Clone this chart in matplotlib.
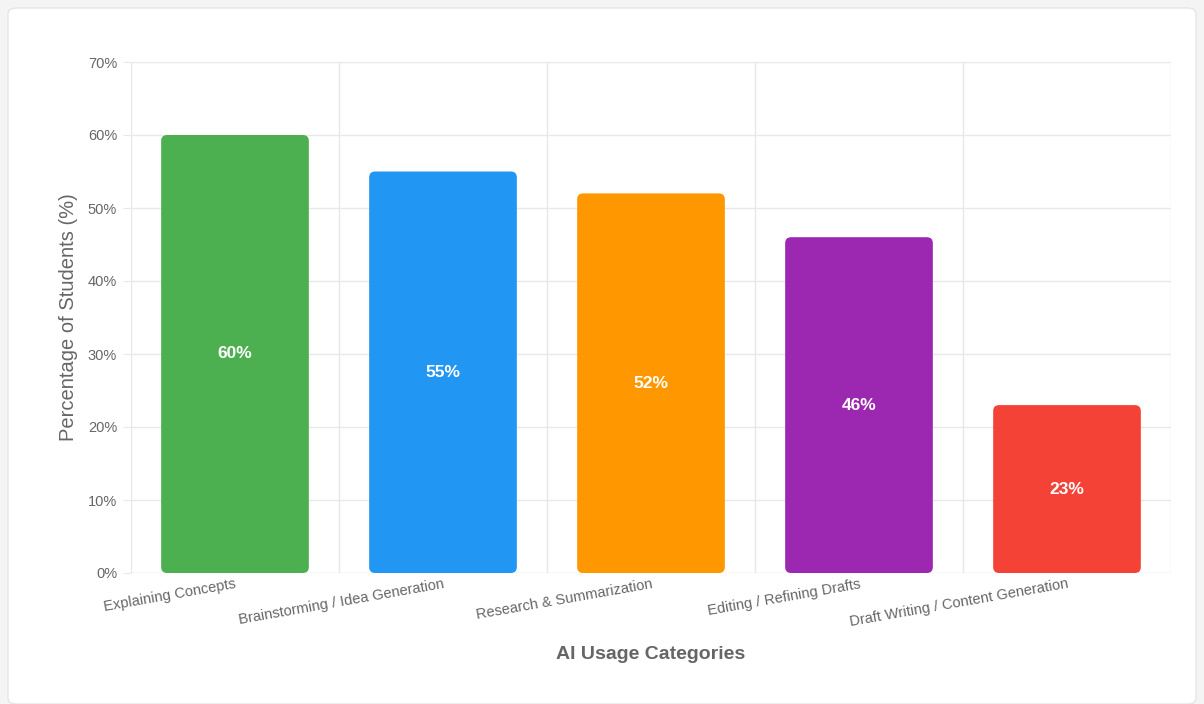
import matplotlib.pyplot as plt
from matplotlib.patches import FancyBboxPatch
import numpy as np

# данные
categories = ["Explaining Concepts", "Brainstorming / Idea Generation",
              "Research & Summarization", "Editing / Refining Drafts",
              "Draft Writing / Content Generation"]
values = [60, 55, 52, 46, 23]
colors = ["#4CAF50", "#2196F3", "#FF9800", "#9C27B0", "#F44336"]
y_ticks = [0, 10, 20, 30, 40, 50, 60, 70]

plt.rcParams['font.family'] = ['Liberation Sans', 'DejaVu Sans']

fig = plt.figure(figsize=(12.04, 7.04), dpi=100)
fig.patch.set_facecolor("#f4f4f4")

# белая карточка
card = FancyBboxPatch((8 / 1204, 0), 1188 / 1204, 696 / 704,
                      boxstyle="round,pad=0,rounding_size=0.008",
                      transform=fig.transFigure, facecolor="white",
                      edgecolor="#e6e6e6", linewidth=1, zorder=-10)
fig.patches.append(card)

ax = fig.add_axes([131 / 1204, 1 - 573 / 704, 1040 / 1204, 511 / 704])
ax.set_facecolor("none")

x = np.arange(len(categories))
bars = ax.bar(x, values, width=0.71, color=colors)
ax.set_xlim(-0.5, len(categories) - 0.5)
ax.set_ylim(0, 70)

# скруглённые углы
r_x = 6 / 208
aspect = (6 / 7.3) / r_x
for b, c in zip(bars, colors):
    b.set_visible(False)
    p = FancyBboxPatch((b.get_x(), b.get_y()), b.get_width(), b.get_height(),
                       boxstyle="round,pad=0,rounding_size=%f" % r_x,
                       mutation_aspect=aspect, facecolor=c, edgecolor="none",
                       zorder=3)
    ax.add_patch(p)
    ax.text(b.get_x() + b.get_width() / 2, b.get_height() / 2,
            "%d%%" % b.get_height(), color="white", fontweight="bold",
            fontsize=12.5, ha="center", va="center", zorder=4)

# сетка
ax.set_yticks(y_ticks)
ax.set_yticklabels(["%d%%" % t for t in y_ticks])
for t in y_ticks[1:]:
    ax.axhline(t, color="#e8e8e8", linewidth=1, zorder=1)
for i in range(len(categories) + 1):
    ax.axvline(i - 0.5, color="#e8e8e8", linewidth=1, zorder=1)
ax.axhline(0, color="#d8d8d8", linewidth=1, zorder=2)

for s in ax.spines.values():
    s.set_visible(False)

ax.set_xticks(x)
ax.set_xticklabels(categories, rotation=10, ha="right", va="top",
                   rotation_mode="anchor")
ax.tick_params(axis="x", length=0, pad=3, labelsize=10.5, labelcolor="#666666")
ax.tick_params(axis="y", length=6, color="#e8e8e8", pad=4, labelsize=10.5,
               labelcolor="#666666")

ax.set_ylabel("Percentage of Students (%)", fontsize=14.5, color="#666666",
              labelpad=7)
ax.set_xlabel("AI Usage Categories", fontsize=14, fontweight="bold",
              color="#666666", labelpad=12)

fig.savefig("out.png", dpi=100)
